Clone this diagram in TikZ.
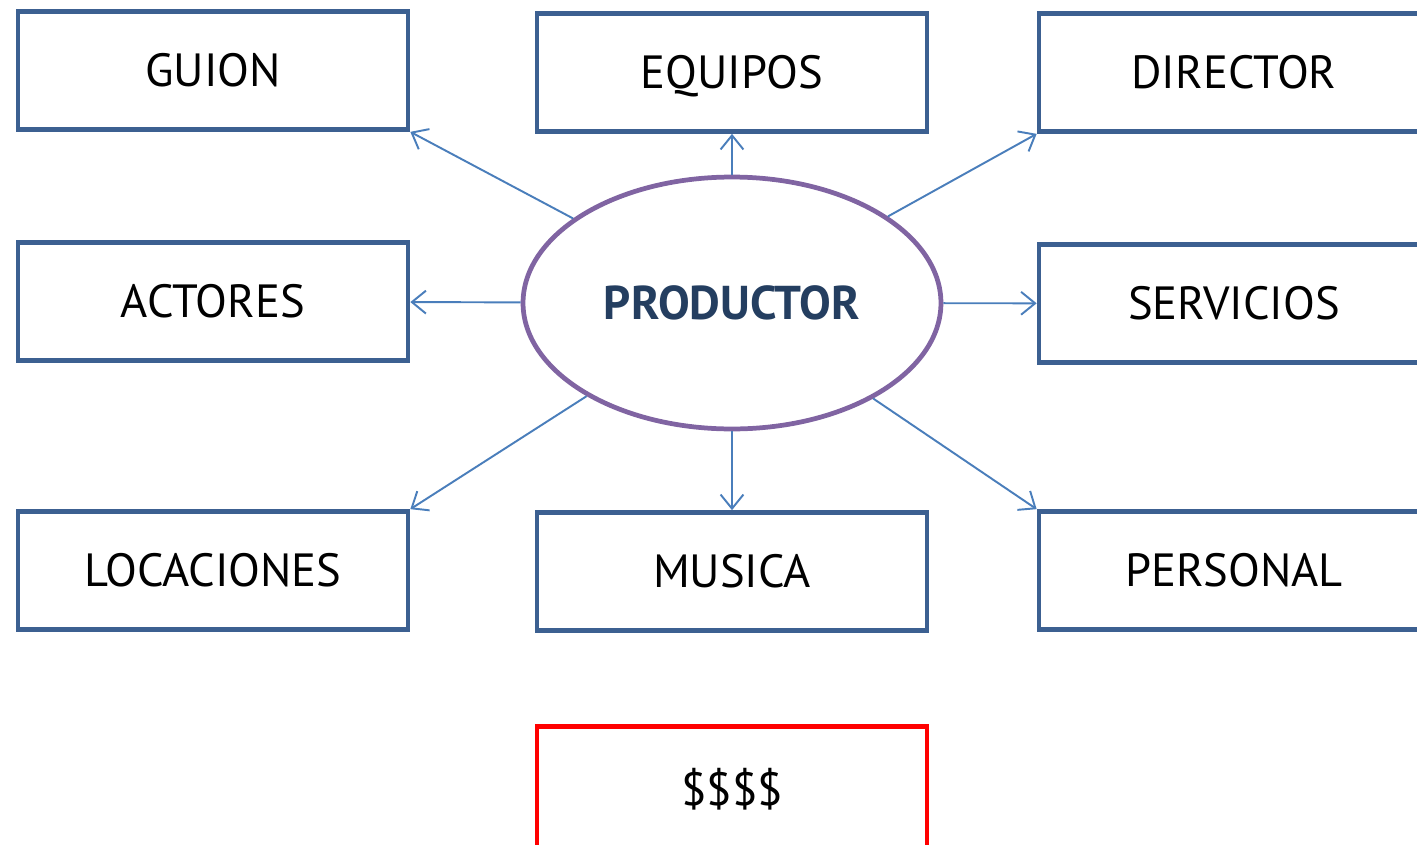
\documentclass[tikz,border=0pt]{standalone}
\usepackage{fontspec}
\setmainfont{PT Sans}
\usetikzlibrary{arrows.meta,shapes.geometric}
\definecolor{boxblue}{RGB}{60,96,145}
\definecolor{arrowblue}{RGB}{74,126,187}
\definecolor{ellpurple}{RGB}{128,100,162}
\definecolor{prodtext}{RGB}{36,62,96}

\begin{document}
\begin{tikzpicture}[x=0.02cm, y=-0.02cm, >={Straight Barb[length=8pt,width=13pt]}]
	\tikzstyle{rol} = [draw=boxblue, line width=2.7pt, minimum width=7.8cm, minimum height=2.36cm, inner sep=0pt, text height=18.5pt, text depth=0pt, font=\fontsize{26.5}{30}\selectfont]
	\tikzstyle{money} = [rol, draw=red, minimum height=2.5cm]
	\tikzstyle{centro} = [draw=ellpurple, ellipse, line width=2.7pt, minimum width=8.36cm, minimum height=5.04cm, inner sep=0pt, text=prodtext, font=\fontsize{27}{30}\selectfont\bfseries]
	\useasboundingbox (0,0) rectangle (1417,845);
	\begin{scope}
	  \path[->, line width=1.1pt, draw=arrowblue]
	  node[centro] (P) at (732,303) {PRODUCTOR}
	  node[rol] (G) at (213,70.5) {GUION}
	  node[rol] (EQ) at (732,72.5) {EQUIPOS}
	  node[rol] (DI) at (1234,72.5) {DIRECTOR}
	  node[rol] (AC) at (213,301.5) {ACTORES}
	  node[rol] (SE) at (1234,303.5) {SERVICIOS}
	  node[rol] (LO) at (213,570.5) {LOCACIONES}
	  node[rol] (MU) at (732,571.5) {MUSICA}
	  node[rol] (PE) at (1234,570.5) {PERSONAL}
	  node[money] (M) at (732,789) {\$\$\$\$}
	  (P) edge[arrowblue] (G.south east)
	  (P) edge[arrowblue] (EQ)
	  (P) edge[arrowblue] (DI.south west)
	  (P) edge[arrowblue] (AC)
	  (P) edge[arrowblue] (SE)
	  (P) edge[arrowblue] (LO.north east)
	  (P) edge[arrowblue] (MU)
	  (P) edge[arrowblue] (PE.north west)
	  ;
	\end{scope}
\end{tikzpicture}
\end{document}
